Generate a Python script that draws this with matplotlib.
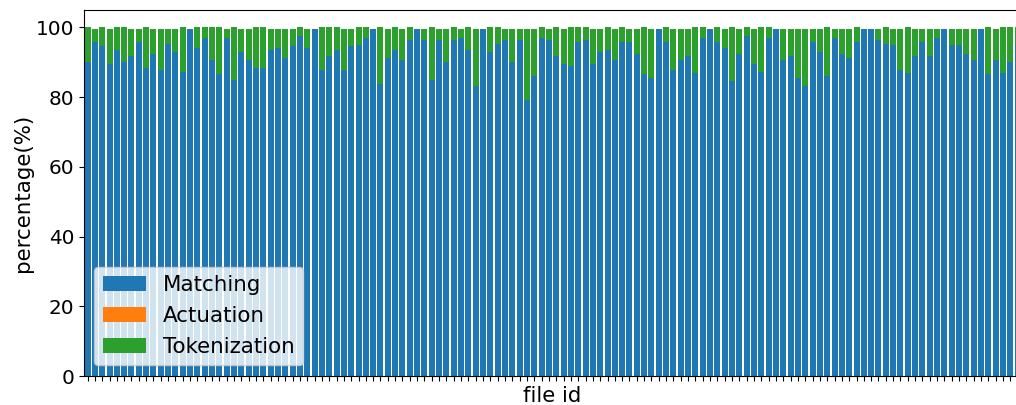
import matplotlib
matplotlib.use('Agg')
from matplotlib import pyplot as plt

# percentage of time per file
matching = [
    90.0, 95.9, 94.6, 89.4, 93.6, 90.2, 91.7, 95.9, 88.3, 92.5,
    87.7, 95.3, 92.9, 87.2, 99.6, 94.0, 97.1, 90.6, 86.6, 97.1,
    84.9, 92.9, 90.6, 88.5, 88.3, 93.4, 94.0, 91.2, 94.8, 97.4,
    94.2, 99.6, 87.7, 91.9, 93.6, 87.7, 94.6, 95.1, 97.0, 99.6,
    83.7, 91.3, 93.6, 90.8, 96.5, 99.6, 96.3, 85.0, 96.3, 90.0,
    96.3, 96.9, 93.4, 83.1, 99.6, 93.0, 95.3, 96.3, 90.2, 96.3,
    79.1, 86.0, 96.9, 96.5, 91.7, 89.6, 89.0, 95.9, 96.3, 89.6,
    92.9, 93.6, 90.8, 95.7, 95.9, 92.3, 86.6, 85.4, 99.6, 95.7,
    87.7, 90.6, 91.7, 86.8, 96.9, 99.6, 95.7, 94.0, 84.5, 92.3,
    97.4, 89.4, 87.3, 97.0, 99.6, 90.6, 91.7, 85.4, 83.1, 95.9,
    92.9, 86.2, 96.9, 92.3, 91.3, 95.7, 99.6, 99.6, 96.3, 95.3,
    95.1, 87.7, 86.8, 91.7, 95.7, 91.7, 96.9, 99.6, 95.1, 95.1,
    92.3, 90.6, 99.6, 86.6, 90.6, 86.8, 90.2, 95.3,
]
tokenization = [
    10.0, 3.7, 5.4, 10.2, 6.4, 9.8, 7.9, 3.7, 11.7, 7.1,
    11.9, 4.3, 6.7, 12.8, 0.0, 6.0, 2.9, 9.4, 13.4, 2.5,
    15.1, 6.7, 9.0, 11.5, 11.7, 6.2, 5.6, 8.4, 4.8, 2.6,
    5.4, 0.0, 12.3, 8.1, 6.4, 11.9, 5.0, 4.9, 3.0, 0.0,
    16.3, 8.3, 6.4, 8.8, 3.5, 0.0, 3.3, 15.0, 3.3, 9.6,
    3.7, 2.7, 6.6, 16.5, 0.0, 7.0, 4.7, 3.3, 9.4, 3.3,
    20.5, 13.6, 3.1, 3.1, 8.3, 10.0, 11.0, 4.1, 3.7, 10.0,
    6.7, 6.4, 8.8, 4.3, 3.7, 7.3, 13.4, 14.2, 0.0, 4.3,
    11.9, 9.0, 7.9, 13.2, 3.1, 0.0, 4.3, 5.6, 15.5, 7.3,
    2.6, 10.2, 12.7, 3.0, 0.0, 9.0, 7.9, 14.2, 16.5, 3.7,
    6.7, 13.8, 2.7, 7.3, 8.3, 4.3, 0.0, 0.0, 3.3, 4.7,
    4.5, 11.9, 13.2, 7.9, 3.9, 7.9, 2.7, 0.0, 4.5, 4.5,
    7.3, 9.0, 0.0, 13.4, 9.0, 13.2, 9.8, 4.7,
]
actuation = [0.0] * len(matching)

file_ids = list(range(len(matching)))
act_bottom = matching
tok_bottom = [m + a for m, a in zip(matching, actuation)]

fig = plt.figure(figsize=(10.16, 4.05), dpi=100)
ax = fig.add_axes([0.0822, 0.0716, 0.923, 0.9037])

ax.bar(file_ids, matching, width=0.82, color='#1f77b4', label='Matching')
ax.bar(file_ids, actuation, width=0.82, bottom=act_bottom, color='#ff7f0e', label='Actuation')
ax.bar(file_ids, tokenization, width=0.82, bottom=tok_bottom, color='#2ca02c', label='Tokenization')

ax.set_xlim(-0.55, len(matching) - 0.5)
ax.set_ylim(0, 105)
ax.set_xticks(file_ids)
ax.set_xticklabels([])
ax.tick_params(axis='y', labelsize=14.4, pad=3)
ax.set_xlabel('file id', fontsize=15.4, labelpad=0)
ax.set_ylabel('percentage(%)', fontsize=15.4, labelpad=2)
ax.legend(loc='lower left', fontsize=15.4)

fig.savefig('out.png', dpi=100)
